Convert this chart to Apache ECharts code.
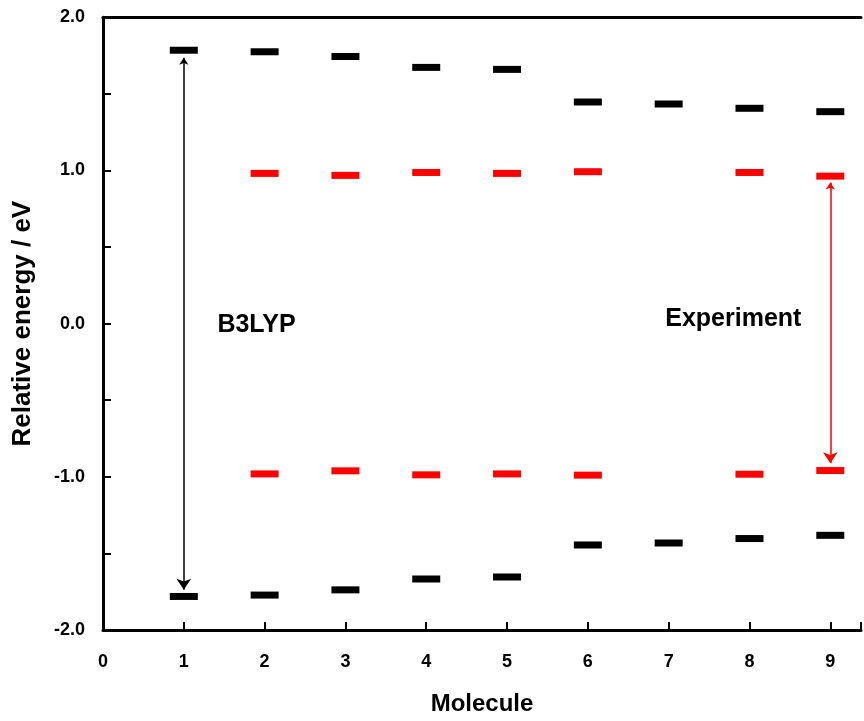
<!DOCTYPE html>
<html>
<head>
<meta charset="utf-8">
<script src="https://cdn.jsdelivr.net/npm/echarts@6/dist/echarts.min.js"></script>
<style>
html,body{margin:0;padding:0;background:#fff;}
#chart{width:864px;height:721px;}
</style>
</head>
<body>
<div id="chart"></div>
<script>
// ---- data ----
const molecules = [1, 2, 3, 4, 5, 6, 7, 8, 9];
const b3lypLumo = [1.785, 1.775, 1.744, 1.673, 1.660, 1.447, 1.434, 1.406, 1.384];
const b3lypHomo = [-1.781, -1.772, -1.738, -1.667, -1.654, -1.445, -1.432, -1.403, -1.382];
const expMolecules = [2, 3, 4, 5, 6, 8, 9];
const expLumo = [0.981, 0.968, 0.987, 0.981, 0.992, 0.987, 0.963];
const expHomo = [-0.981, -0.961, -0.987, -0.981, -0.989, -0.983, -0.959];
const b3lypArrow = [[1, 1.736], [1, -1.738]];
const expArrow = [[9, 0.922], [9, -0.912]];
const annotations = [
  { name: 'B3LYP', x: 1.90, y: -0.01 },
  { name: 'Experiment', x: 7.80, y: 0.03 }
];
const yTicks = [-2, -1, 0, 1, 2];

const FONT = '"Liberation Sans", Arial, sans-serif';
const chart = echarts.init(document.getElementById('chart'), null, { renderer: 'canvas' });

const pairs = (xs, ys) => xs.map((x, i) => [x, ys[i]]);
const barStyle = (color) => ({
  type: 'scatter',
  symbol: 'rect',
  symbolSize: [28, 7],
  itemStyle: { color: color, opacity: 1 },
  emphasis: { disabled: true },
  silent: true,
  z: 3
});

const option = {
  animation: false,
  backgroundColor: '#fff',
  grid: { left: 103, right: 0, top: 17.3, bottom: 86.5, containLabel: false },
  xAxis: [{
    type: 'value',
    min: 0, max: 9.38, interval: 1,
    name: 'Molecule',
    nameLocation: 'middle',
    nameGap: 62,
    nameTextStyle: { fontFamily: FONT, fontWeight: 'bold', fontSize: 24, color: '#000' },
    axisLine: { show: true, onZero: false, lineStyle: { color: '#000', width: 3 } },
    axisTick: { show: true, inside: true, length: 8, lineStyle: { color: '#000', width: 2 } },
    axisLabel: {
      margin: 23, fontFamily: FONT, fontWeight: 'bold', fontSize: 18, color: '#000',
      formatter: v => (Number.isInteger(v) && v <= 9) ? String(v) : ''
    },
    splitLine: { show: false }
  }, {
    type: 'value',
    position: 'top',
    min: 0, max: 9.38,
    axisLine: { show: true, onZero: false, lineStyle: { color: '#000', width: 3 } },
    axisTick: { show: false },
    axisLabel: { show: false },
    splitLine: { show: false }
  }],
  yAxis: {
    type: 'value',
    min: yTicks[0], max: yTicks[yTicks.length - 1], interval: 1,
    name: 'Relative energy / eV',
    nameLocation: 'middle',
    nameGap: 67,
    nameTextStyle: { fontFamily: FONT, fontWeight: 'bold', fontSize: 26, color: '#000' },
    axisLine: { show: true, onZero: false, lineStyle: { color: '#000', width: 3 } },
    axisTick: { show: true, inside: true, length: 8, lineStyle: { color: '#000', width: 2 } },
    minorTick: { show: true, splitNumber: 2, length: 8, lineStyle: { color: '#000', width: 2 } },
    axisLabel: {
      margin: 18, fontFamily: FONT, fontWeight: 'bold', fontSize: 18, color: '#000',
      formatter: v => v.toFixed(1)
    },
    splitLine: { show: false }
  },
  series: [
    Object.assign(barStyle('#000000'), { name: 'B3LYP LUMO', data: pairs(molecules, b3lypLumo) }),
    Object.assign(barStyle('#000000'), { name: 'B3LYP HOMO', data: pairs(molecules, b3lypHomo) }),
    Object.assign(barStyle('#ff0000'), { name: 'Exp LUMO', data: pairs(expMolecules, expLumo) }),
    Object.assign(barStyle('#ff0000'), { name: 'Exp HOMO', data: pairs(expMolecules, expHomo) }),
    {
      type: 'lines',
      coordinateSystem: 'cartesian2d',
      silent: true,
      symbol: ['arrow', 'arrow'],
      symbolSize: [7, 11],
      lineStyle: { color: '#000', width: 1.5, opacity: 1 },
      data: [{ coords: b3lypArrow }],
      z: 2
    },
    {
      type: 'lines',
      coordinateSystem: 'cartesian2d',
      silent: true,
      symbol: ['arrow', 'arrow'],
      symbolSize: [7, 11],
      lineStyle: { color: '#ff0000', width: 1.5, opacity: 1 },
      data: [{ coords: expArrow }],
      z: 2
    },
    {
      type: 'scatter',
      silent: true,
      symbolSize: 0,
      itemStyle: { opacity: 1 },
      data: annotations.map(a => ({ name: a.name, value: [a.x, a.y] })),
      label: {
        show: true, position: 'inside', formatter: p => p.name,
        fontFamily: FONT, fontWeight: 'bold', fontSize: 25, color: '#000', opacity: 1
      }
    }
  ]
};
chart.setOption(option);
</script>
</body>
</html>
